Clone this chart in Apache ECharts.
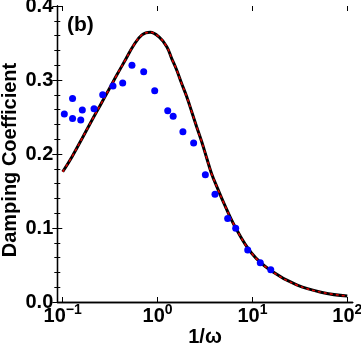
<!DOCTYPE html>
<html><head><meta charset="utf-8">
<script src="https://cdn.jsdelivr.net/npm/echarts@6/dist/echarts.min.js"></script>
<style>html,body{margin:0;padding:0;background:#fff}#c{width:361px;height:354px}</style>
</head><body><div id="c"></div>
<script>
// Theory curve: x = 1/omega, y = damping coefficient
const curveX = [0.1, 0.125, 0.16, 0.204, 0.249, 0.305, 0.373, 0.457, 0.56, 0.685, 0.838, 1.03, 1.25, 1.41, 1.59, 1.79, 2.03, 2.29, 2.58, 2.92, 3.3, 3.72, 4.29, 4.93, 6.55, 9.82, 15.3, 29.3, 55.8, 100];
const curveY = [0.176, 0.196, 0.221, 0.246, 0.266, 0.2865, 0.307, 0.327, 0.347, 0.361, 0.3645, 0.3585, 0.345, 0.329, 0.3135, 0.2955, 0.2774, 0.2572, 0.2369, 0.2166, 0.1942, 0.1730, 0.1535, 0.1353, 0.1018, 0.0658, 0.0432, 0.023, 0.0126, 0.0081];
// Measured points
const dotX = [0.104, 0.127, 0.127, 0.155, 0.161, 0.214, 0.264, 0.339, 0.429, 0.537, 0.714, 0.933, 1.28, 1.46, 1.85, 2.40, 3.19, 4.03, 5.48, 6.66, 8.92, 12.1, 15.6];
const dotY = [0.254, 0.275, 0.248, 0.246, 0.2595, 0.261, 0.280, 0.292, 0.296, 0.320, 0.311, 0.2855, 0.2585, 0.251, 0.230, 0.215, 0.172, 0.1455, 0.113, 0.0996, 0.0703, 0.0531, 0.0437];
const yTicks = [0.0, 0.1, 0.2, 0.3, 0.4];

const curve = curveX.map((x, i) => [x, curveY[i]]);
const dots = dotX.map((x, i) => [x, dotY[i]]);
const F = "'Liberation Sans', Arial, sans-serif";
const FS = 20;

const chart = echarts.init(document.getElementById('c'));
chart.setOption({
  animation: false,
  backgroundColor: '#fff',
  grid: [
    {left: 57.3, top: 6, width: 295.4, height: 296, outerBoundsMode: 'none', containLabel: false},
    {left: 62.7, top: 6, width: 284.6, height: 296, outerBoundsMode: 'none', containLabel: false}
  ],
  xAxis: [
    {gridIndex: 0, type: 'value', min: 0, max: 1, position: 'bottom',
     axisLine: {show: true, lineStyle: {color: '#000', width: 1.3}}, axisTick: {show: false},
     axisLabel: {show: false}, splitLine: {show: false},
     name: '1/ω', nameLocation: 'middle', nameGap: 25,
     nameTextStyle: {fontFamily: F, fontWeight: 'bold', fontSize: FS, color: '#000'}},
    {gridIndex: 0, type: 'value', min: 0, max: 1, position: 'top',
     axisLine: {show: true, lineStyle: {color: '#000', width: 1.3}}, axisTick: {show: false},
     axisLabel: {show: false}, splitLine: {show: false}},
    {gridIndex: 1, type: 'log', logBase: 10, min: 0.1, max: 100, position: 'bottom',
     axisLine: {show: false},
     axisTick: {show: true, inside: true, length: 5, lineStyle: {color: '#000', width: 1}},
     minorTick: {show: false}, splitLine: {show: false},
     axisLabel: {show: true, margin: 1, color: '#000',
       formatter: v => {
         const e = Math.round(Math.log10(v));
         const s = e < 0 ? '−' + (-e) : String(e);
         return '{b|10}{s|' + s + '}';
       },
       rich: {
         b: {fontFamily: F, fontWeight: 'bold', fontSize: FS, color: '#000', lineHeight: 23, verticalAlign: 'bottom'},
         s: {fontFamily: F, fontWeight: 'bold', fontSize: 14, color: '#000', lineHeight: 23, verticalAlign: 'top'}
       }}},
    {gridIndex: 1, type: 'log', logBase: 10, min: 0.1, max: 100, position: 'top',
     axisLine: {show: false},
     axisTick: {show: true, inside: true, length: 5, lineStyle: {color: '#000', width: 1}},
     axisLabel: {show: false}, splitLine: {show: false}}
  ],
  yAxis: [
    {gridIndex: 0, type: 'value', min: 0, max: 0.4, interval: 0.1, position: 'left',
     axisLine: {show: true, lineStyle: {color: '#000', width: 1.3}},
     axisTick: {show: true, inside: true, length: 5, lineStyle: {color: '#000', width: 1}},
     minorTick: {show: true, splitNumber: 5, length: 3, lineStyle: {color: '#000', width: 1}},
     splitLine: {show: false},
     axisLabel: {margin: 4, color: '#000', fontFamily: F, fontWeight: 'bold', fontSize: FS,
       formatter: v => { const t = yTicks.find(a => Math.abs(a - v) < 1e-9); return t === undefined ? '' : t.toFixed(1); }}},
    {gridIndex: 0, type: 'value', min: 0, max: 0.4, interval: 0.1, position: 'right',
     axisLine: {show: true, lineStyle: {color: '#000', width: 1.3}},
     axisTick: {show: true, inside: true, length: 5, lineStyle: {color: '#000', width: 1}},
     minorTick: {show: true, splitNumber: 5, length: 3, lineStyle: {color: '#000', width: 1}},
     splitLine: {show: false}, axisLabel: {show: false}},
    {gridIndex: 1, type: 'value', min: 0, max: 0.4, show: false}
  ],
  graphic: [
    {type: 'text', left: 67, top: 15, style: {text: '(b)', fontFamily: F, fontWeight: 'bold', fontSize: 21, fill: '#000'}},
    {type: 'text', x: 10, y: 160, rotation: Math.PI / 2,
     style: {text: 'Damping Coefficient', fontFamily: F, fontWeight: 'bold', fontSize: FS, fill: '#000',
             align: 'center', verticalAlign: 'middle'}}
  ],
  series: [
    {type: 'line', xAxisIndex: 2, yAxisIndex: 2, data: curve, smooth: 0.4, showSymbol: false,
     lineStyle: {color: '#000', width: 3}, z: 2},
    {type: 'line', xAxisIndex: 2, yAxisIndex: 2, data: curve, smooth: 0.4, showSymbol: false,
     lineStyle: {color: '#e00000', width: 1.5, type: [3, 3]}, z: 3},
    {type: 'scatter', xAxisIndex: 2, yAxisIndex: 2, data: dots, symbolSize: 7,
     itemStyle: {color: '#0000ff', opacity: 1}, z: 4}
  ]
});
</script></body></html>
